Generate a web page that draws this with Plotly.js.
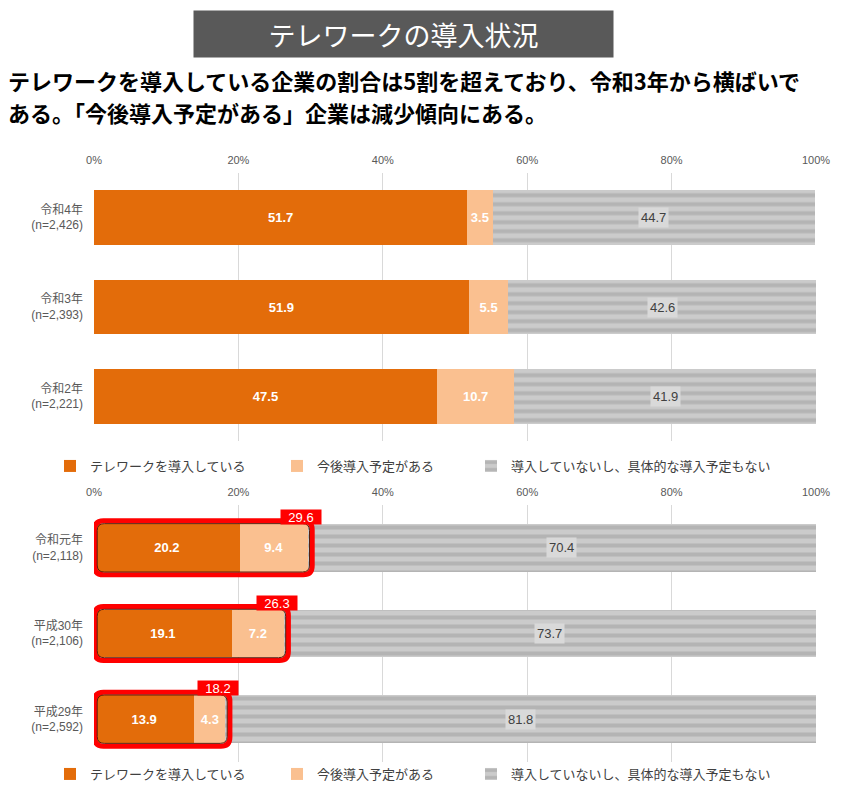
<!DOCTYPE html>
<html>
<head>
<meta charset="utf-8">
<script src="https://cdn.plot.ly/plotly-3.0.1.min.js"></script>
<style>html,body{margin:0;padding:0;background:#fff;}#chart{width:846px;height:800px;}</style>
</head>
<body>
<div id="chart"></div>
<script>
// ---- data ----
const seriesNames = ['テレワークを導入している', '今後導入予定がある', '導入していないし、具体的な導入予定もない'];
const xTicks = [0, 20, 40, 60, 80, 100];
const xTickText = ['0%', '20%', '40%', '60%', '80%', '100%'];

const yearsTop = ['令和4年', '令和3年', '令和2年'];
const nTop = ['2,426', '2,393', '2,221'];
const introducedTop = [51.7, 51.9, 47.5];
const plannedTop = [3.5, 5.5, 10.7];
const noneTop = [44.7, 42.6, 41.9];

const yearsBottom = ['令和元年', '平成30年', '平成29年'];
const nBottom = ['2,118', '2,106', '2,592'];
const introducedBottom = [20.2, 19.1, 13.9];
const plannedBottom = [9.4, 7.2, 4.3];
const noneBottom = [70.4, 73.7, 81.8];
const totalBottom = [29.6, 26.3, 18.2];

// ---- styles ----
const W = 846, H = 800;
const C_ORANGE = '#E36C0A', C_PEACH = '#FAC090', C_GRAY = '#C9C9C9';
const NUMFONT = 'Liberation Sans, Arial, Noto Sans CJK JP, sans-serif';
const JPFONT = 'Noto Sans CJK JP, sans-serif';
const px = v => v / W;
const py = v => 1 - v / H;

const xDom = [px(94), px(816)];
const topDom = [py(441.25), py(172.75)];
const botDom = [py(762), py(505)];

const labelsTop = yearsTop.map((y, i) => y + '<br>(n=' + nTop[i] + ')');
const labelsBottom = yearsBottom.map((y, i) => y + '<br>(n=' + nBottom[i] + ')');

function fmt(v) { return v.toFixed(1); }

function makeTraces(labels, a, b, c, xa, ya, width, legends) {
  const common = {type: 'bar', orientation: 'h', y: labels, xaxis: xa, yaxis: ya, width: width,
    hoverinfo: 'skip', cliponaxis: false};
  return [
    Object.assign({}, common, {name: seriesNames[0], x: a, text: a.map(fmt),
      textposition: 'inside', insidetextanchor: 'middle', constraintext: 'none',
      textfont: {color: '#ffffff', size: 13, family: NUMFONT, weight: 'bold'},
      marker: {color: C_ORANGE, line: {width: 0}}, legend: legends[0]}),
    Object.assign({}, common, {name: seriesNames[1], x: b, text: b.map(fmt),
      textposition: 'inside', insidetextanchor: 'middle', constraintext: 'none',
      textfont: {color: '#ffffff', size: 13, family: NUMFONT, weight: 'bold'},
      marker: {color: C_PEACH, line: {width: 0}}, legend: legends[1]}),
    Object.assign({}, common, {name: seriesNames[2], x: c, textposition: 'none',
      marker: {color: C_GRAY, line: {width: 0},
        pattern: {shape: '-', fgcolor: '#B4B4B4', bgcolor: '#CBCBCB', size: 9, solidity: 0.45}},
      legend: legends[2]})
  ];
}

const data = [].concat(
  makeTraces(labelsTop, introducedTop, plannedTop, noneTop, 'x', 'y', 0.61, ['legend', 'legend2', 'legend3']),
  makeTraces(labelsBottom, introducedBottom, plannedBottom, noneBottom, 'x2', 'y2', 0.56, ['legend4', 'legend5', 'legend6'])
);

const annotations = [];
// header
annotations.push({xref: 'paper', yref: 'paper', x: px(403), y: py(34), xanchor: 'center', yanchor: 'middle',
  text: 'テレワークの導入状況', showarrow: false, bgcolor: '#595959', width: 419, height: 46, borderpad: 0,
  font: {family: JPFONT, size: 27, color: '#ffffff'}});
annotations.push({xref: 'paper', yref: 'paper', x: px(6), y: py(80), xanchor: 'left', yanchor: 'middle',
  text: '<b>テレワークを導入している企業の割合は5割を超えており、令和3年から横ばいで</b>', showarrow: false,
  font: {family: JPFONT, size: 22, color: '#000000'}});
annotations.push({xref: 'paper', yref: 'paper', x: px(6), y: py(112), xanchor: 'left', yanchor: 'middle',
  text: '<b>ある。「今後導入予定がある」企業は減少傾向にある。</b>', showarrow: false,
  font: {family: JPFONT, size: 22, color: '#000000'}});

// gray value labels
function grayLabels(labels, a, b, c, xa, ya) {
  labels.forEach((lab, i) => {
    annotations.push({xref: xa, yref: ya, x: a[i] + b[i] + c[i] / 2, y: i, text: fmt(c[i]), showarrow: false,
      bgcolor: '#D9D9D9', borderpad: 2, font: {family: NUMFONT, size: 13, color: '#404040'}});
  });
}
grayLabels(labelsTop, introducedTop, plannedTop, noneTop, 'x', 'y');
grayLabels(labelsBottom, introducedBottom, plannedBottom, noneBottom, 'x2', 'y2');

// red total labels + rounded frames (bottom chart)
const xUnitPx = (816 - 94) / 100;
const yUnitPx = (762 - 505) / 3;
const shapes = [];
function roundedPath(x0, x1, y0, y1, r) {
  const rx = r / xUnitPx, ry = r / yUnitPx;
  return 'M' + (x0 + rx) + ',' + y0 + ' L' + (x1 - rx) + ',' + y0 + ' Q' + x1 + ',' + y0 + ' ' + x1 + ',' + (y0 + ry) +
    ' L' + x1 + ',' + (y1 - ry) + ' Q' + x1 + ',' + y1 + ' ' + (x1 - rx) + ',' + y1 +
    ' L' + (x0 + rx) + ',' + y1 + ' Q' + x0 + ',' + y1 + ' ' + x0 + ',' + (y1 - ry) +
    ' L' + x0 + ',' + (y0 + ry) + ' Q' + x0 + ',' + y0 + ' ' + (x0 + rx) + ',' + y0 + ' Z';
}
totalBottom.forEach((t, i) => {
  const x0 = 0.5 / xUnitPx, x1 = t + 4.5 / xUnitPx;
  const h = 27 / yUnitPx;
  shapes.push({type: 'path', xref: 'x2', yref: 'y2', path: roundedPath(x0, x1, i - h, i + h, 9),
    line: {color: '#FF0000', width: 5}, fillcolor: 'rgba(0,0,0,0)', layer: 'above'});
  const hi = 24.2 / yUnitPx;
  shapes.push({type: 'path', xref: 'x2', yref: 'y2',
    path: roundedPath(x0 + 2.7 / xUnitPx, x1 - 2.7 / xUnitPx, i - hi, i + hi, 7),
    line: {color: '#5A1E0A', width: 1}, fillcolor: 'rgba(0,0,0,0)', layer: 'above'});
  annotations.push({xref: 'x2', yref: 'y2', x: t, y: i - 31 / yUnitPx, xanchor: 'center', yanchor: 'middle',
    xshift: -7, text: fmt(t), showarrow: false, bgcolor: '#FF0000', width: 40, height: 14, borderpad: 0,
    font: {family: NUMFONT, size: 13, color: '#ffffff'}});
});

const axisX = {range: [0, 100], tickmode: 'array', tickvals: xTicks, ticktext: xTickText, side: 'top', showgrid: true,
  gridcolor: '#D9D9D9', gridwidth: 1, zeroline: false, showline: false, ticks: '', fixedrange: true,
  ticklabelstandoff: 6, tickfont: {family: NUMFONT, size: 11, color: '#595959'}};
const axisY = {autorange: 'reversed', type: 'category', showgrid: false, zeroline: false, showline: false,
  ticks: '', ticklabelstandoff: 10, fixedrange: true, tickfont: {family: NUMFONT, size: 12, color: '#595959'}};

function leg(xPix, yPix) {
  return {x: px(xPix), y: py(yPix), xanchor: 'left', yanchor: 'middle', orientation: 'h',
    bgcolor: 'rgba(0,0,0,0)', itemwidth: 30, itemclick: false, itemdoubleclick: false,
    font: {family: JPFONT, size: 13, color: '#404040'}};
}

const layout = {
  width: W, height: H, margin: {l: 0, r: 0, t: 0, b: 0},
  paper_bgcolor: '#ffffff', plot_bgcolor: '#ffffff',
  barmode: 'stack', showlegend: true,
  xaxis: Object.assign({}, axisX, {domain: xDom, anchor: 'y'}),
  yaxis: Object.assign({}, axisY, {domain: topDom, anchor: 'x'}),
  xaxis2: Object.assign({}, axisX, {domain: xDom, anchor: 'y2'}),
  yaxis2: Object.assign({}, axisY, {domain: botDom, anchor: 'x2'}),
  legend: leg(50, 466), legend2: leg(277, 466), legend3: leg(471, 466),
  legend4: leg(50, 774), legend5: leg(277, 774), legend6: leg(471, 774),
  annotations: annotations, shapes: shapes
};

Plotly.newPlot('chart', data, layout, {displayModeBar: false, staticPlot: true});
</script>
</body>
</html>
